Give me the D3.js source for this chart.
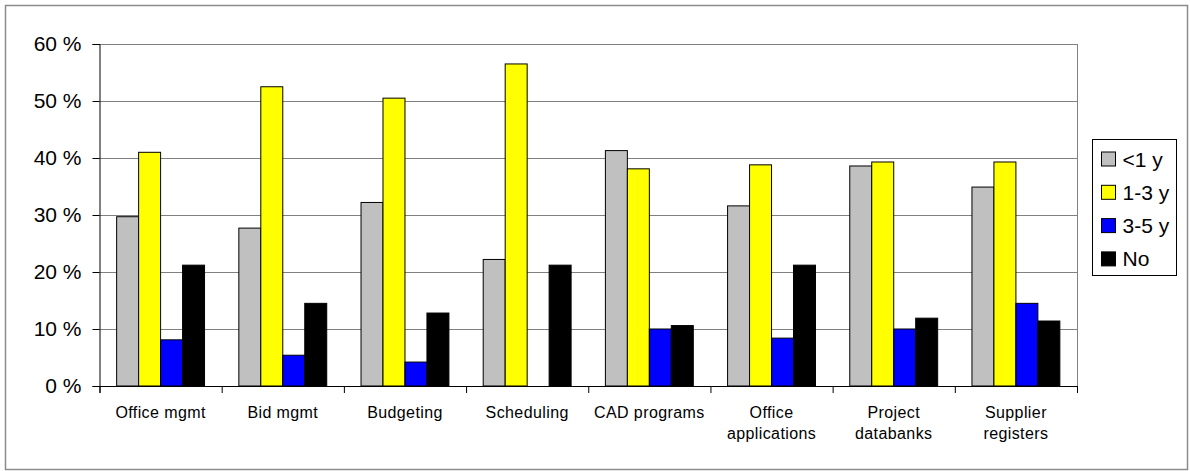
<!DOCTYPE html>
<html>
<head>
<meta charset="utf-8">
<script src="https://cdn.jsdelivr.net/npm/d3@7"></script>
<style>
  body { margin: 0; background: #fff; }
  svg { font-family: Arial, "Liberation Sans", sans-serif; }
</style>
</head>
<body>
<div id="chart"></div>
<script>
// values in percent
var categories = ['Office mgmt', 'Bid mgmt', 'Budgeting', 'Scheduling', 'CAD programs', 'Office applications', 'Project databanks', 'Supplier registers'];
var seriesNames = ['<1 y', '1-3 y', '3-5 y', 'No'];
var seriesColors = ['#c0c0c0', '#ffff00', '#0000ff', '#000000'];
var lessThan1 = [29.7, 27.7, 32.2, 22.2, 41.3, 31.6, 38.6, 34.9];
var oneToThree = [41.0, 52.5, 50.5, 56.5, 38.1, 38.8, 39.3, 39.3];
var threeToFive = [8.1, 5.4, 4.2, 0, 10.0, 8.4, 10.0, 14.5];
var noValues = [21.2, 14.5, 12.8, 21.2, 10.6, 21.2, 11.9, 11.4];
var yTicks = [0, 10, 20, 30, 40, 50, 60];
// label lines as they break in the picture
var labelLines = {
	'Office applications': ['Office', 'applications'],
	'Project databanks': ['Project', 'databanks'],
	'Supplier registers': ['Supplier', 'registers']
};

var series = [lessThan1, oneToThree, threeToFive, noValues];

var W = 1190, H = 471;
var margin = { top: 44, left: 99.5, right: 113, bottom: 85 };
var plotRight = W - margin.right;
var plotBottom = H - margin.bottom;

var svg = d3.select('#chart').append('svg')
	.attr('width', W)
	.attr('height', H);

// outer frame
svg.append('rect')
	.attr('x', 5.5).attr('y', 5.5)
	.attr('width', 1182).attr('height', 464)
	.attr('fill', '#fff')
	.attr('stroke', '#8c8c8c')
	.attr('stroke-width', 1.5);

var x0 = d3.scaleBand()
	.domain(categories)
	.range([margin.left, plotRight])
	.padding(0);

var x1 = d3.scaleBand()
	.domain(d3.range(seriesNames.length))
	.range([0, x0.bandwidth()])
	.paddingInner(0)
	.paddingOuter(0.78);

var y = d3.scaleLinear()
	.domain([0, 60])
	.range([plotBottom, margin.top]);

// gridlines
svg.append('g')
	.selectAll('line')
	.data(yTicks.filter(function(d) { return d > 0; }))
	.enter().append('line')
	.attr('x1', margin.left).attr('x2', plotRight)
	.attr('y1', function(d) { return Math.round(y(d)) + 0.5; })
	.attr('y2', function(d) { return Math.round(y(d)) + 0.5; })
	.attr('stroke', '#808080')
	.attr('stroke-width', 1);

// right border of plot area
svg.append('line')
	.attr('x1', plotRight + 0.5).attr('x2', plotRight + 0.5)
	.attr('y1', margin.top).attr('y2', plotBottom)
	.attr('stroke', '#808080');

// bars
var groups = svg.append('g')
	.selectAll('g')
	.data(categories)
	.enter().append('g')
	.attr('transform', function(d) { return 'translate(' + x0(d) + ',0)'; });

groups.selectAll('rect')
	.data(function(d, i) {
		return series.map(function(s, k) { return { k: k, value: s[i] }; });
	})
	.enter().append('rect')
	.filter(function(d) { return d.value > 0; })
	.attr('x', function(d) { return x1(d.k); })
	.attr('y', function(d) { return y(d.value); })
	.attr('width', x1.bandwidth())
	.attr('height', function(d) { return plotBottom - y(d.value); })
	.attr('fill', function(d) { return seriesColors[d.k]; })
	.attr('stroke', '#000')
	.attr('stroke-width', 1);

// y axis
var yAxis = svg.append('g')
	.attr('transform', 'translate(' + margin.left + ',0)')
	.call(d3.axisLeft(y)
		.tickValues(yTicks)
		.tickSize(7)
		.tickPadding(11)
		.tickFormat(function(d) { return d + ' %'; }));
yAxis.selectAll('text')
	.attr('font-size', 21)
	.attr('fill', '#000')
	.style('font-family', 'Arial, "Liberation Sans", sans-serif');

// x axis with ticks at category boundaries
var xb = d3.scaleLinear().domain([0, categories.length]).range([margin.left, plotRight]);
svg.append('g')
	.attr('transform', 'translate(0,' + plotBottom + ')')
	.call(d3.axisBottom(xb)
		.tickValues(d3.range(categories.length + 1))
		.tickSize(7)
		.tickFormat(''));

svg.selectAll('.domain, .tick line').attr('stroke', '#000');

// category labels
var labels = svg.append('g')
	.selectAll('text')
	.data(categories)
	.enter().append('text')
	.attr('x', function(d) { return x0(d) + x0.bandwidth() / 2; })
	.attr('y', 418)
	.attr('text-anchor', 'middle')
	.attr('font-size', 16)
	.attr('letter-spacing', 0.4)
	.attr('fill', '#000');

labels.selectAll('tspan')
	.data(function(d) { return labelLines[d] || [d]; })
	.enter().append('tspan')
	.attr('x', function() { var p = this.parentNode; return p.getAttribute('x'); })
	.attr('dy', function(d, i) { return i === 0 ? 0 : 21; })
	.text(function(d) { return d; });

// legend
var legend = svg.append('g').attr('transform', 'translate(1092.5,139.5)');
legend.append('rect')
	.attr('width', 84).attr('height', 136)
	.attr('fill', '#fff')
	.attr('stroke', '#000')
	.attr('stroke-width', 1);

var items = legend.selectAll('g.item')
	.data(seriesNames)
	.enter().append('g')
	.attr('class', 'item')
	.attr('transform', function(d, i) { return 'translate(9,' + (19.5 + i * 33.3) + ')'; });

items.append('rect')
	.attr('x', 0).attr('y', -7)
	.attr('width', 14).attr('height', 14)
	.attr('fill', function(d, i) { return seriesColors[i]; })
	.attr('stroke', '#000');

items.append('text')
	.attr('x', 21)
	.attr('y', 7.5)
	.attr('font-size', 21)
	.attr('fill', '#000')
	.text(function(d) { return d; });
</script>
</body>
</html>
